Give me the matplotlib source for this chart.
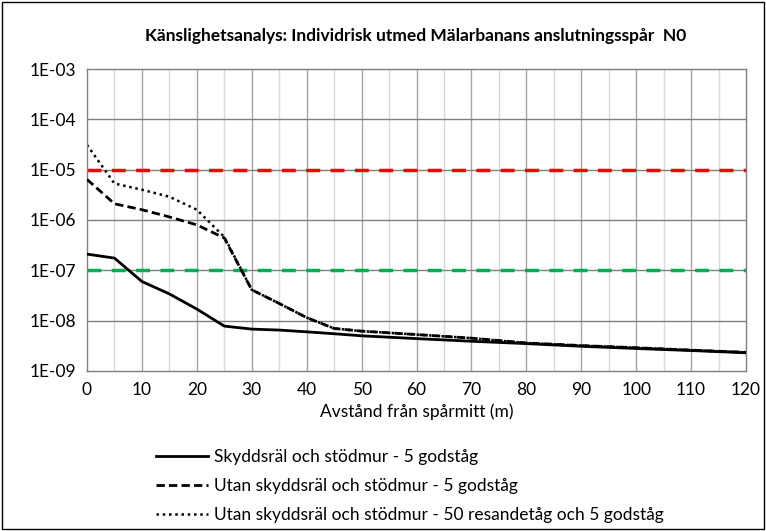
import numpy as np
import matplotlib
matplotlib.use('Agg')
import matplotlib.pyplot as plt
from matplotlib.patches import Rectangle

plt.rcParams['font.family'] = ['Lato', 'DejaVu Sans']

# data (avstand i m, individrisk per ar)
x = [0, 5, 10, 15, 20, 25, 30, 35, 40, 45, 50, 60, 70, 80, 90, 100, 110, 120]
skydd_5g = [2.1e-7, 1.75e-7, 6e-8, 3.4e-8, 1.7e-8, 7.8e-9, 6.8e-9, 6.5e-9, 6e-9, 5.5e-9,
            5e-9, 4.4e-9, 3.9e-9, 3.5e-9, 3.1e-9, 2.8e-9, 2.55e-9, 2.3e-9]
utan_5g = [6.4e-6, 2.1e-6, 1.6e-6, 1.15e-6, 8e-7, 4.4e-7, 4.1e-8, 2.2e-8, 1.15e-8, 7e-9,
           6.2e-9, 5.3e-9, 4.5e-9, 3.6e-9, 3.2e-9, 2.9e-9, 2.6e-9, 2.35e-9]
utan_50r = [3.1e-5, 5.3e-6, 4e-6, 2.9e-6, 1.6e-6, 4.6e-7, 4.1e-8, 2.2e-8, 1.15e-8, 7e-9,
            6.2e-9, 5.3e-9, 4.5e-9, 3.6e-9, 3.2e-9, 2.9e-9, 2.6e-9, 2.35e-9]
grans_hog = 1e-5
grans_lag = 1e-7
etiketter = ['Skyddsräl och stödmur - 5 godståg',
             'Utan skyddsräl och stödmur - 5 godståg',
             'Utan skyddsräl och stödmur - 50 resandetåg och 5 godståg']

fs = 12.5

fig = plt.figure(figsize=(7.66, 5.31), dpi=100)
ax = fig.add_axes([87/766, 1-371/531, (746-87)/766, (371-69)/531])

# ram runt hela diagrammet
fig.patches.append(Rectangle((0.002, 0.003), 0.995, 0.994, transform=fig.transFigure,
                             fill=False, edgecolor='black', linewidth=1.0))

ax.set_yscale('log')
ax.set_ylim(1e-9, 1e-3)
ax.set_xlim(0, 120)

# rutnat
for xv in range(5, 120, 5):
    c = '#a6a6a6' if xv % 10 == 0 else '#d9d9d9'
    ax.axvline(xv, color=c, linewidth=1.0, zorder=0)
for e in range(-8, -3):
    ax.axhline(10.0**e, color='#7f7f7f', linewidth=1.0, zorder=0)

ax.axhline(grans_hog, color='#ff0000', linewidth=2.5, linestyle=(0, (4, 3)), zorder=1)
ax.axhline(grans_lag, color='#00b050', linewidth=2.5, linestyle=(0, (4, 3)), zorder=1)

l1, = ax.plot(x, skydd_5g, color='black', linewidth=2.0, zorder=3)
l2, = ax.plot(x, utan_5g, color='black', linewidth=2.0, linestyle=(0, (3, 1.5)), zorder=3)
l3, = ax.plot(x, utan_50r, color='black', linewidth=1.8, linestyle=(0, (1, 1.5)), zorder=2)

ax.set_xticks(range(0, 121, 10))
ax.set_yticks([10.0**e for e in range(-9, -2)])
ax.set_yticklabels(['1E-%02d' % (-e) for e in range(-9, -2)])
ax.minorticks_off()
ax.tick_params(length=0, labelsize=fs, colors='black', pad=8)
for s in ax.spines.values():
    s.set_color('#7f7f7f')
    s.set_linewidth(1.0)

ax.set_xlabel('Avstånd från spårmitt (m)', fontsize=fs, labelpad=4)
fig.text(416/766, 1-36/531, 'Känslighetsanalys: Individrisk utmed Mälarbanans anslutningsspår  N0',
         ha='center', va='center', fontsize=fs, fontweight='bold')

fig.legend([l1, l2, l3], etiketter, loc='upper left', bbox_to_anchor=(140/766, 1-433/531),
           frameon=False, fontsize=fs, handlelength=3.0, handletextpad=0.35, labelspacing=0.76)

fig.savefig('out.png', dpi=100)
